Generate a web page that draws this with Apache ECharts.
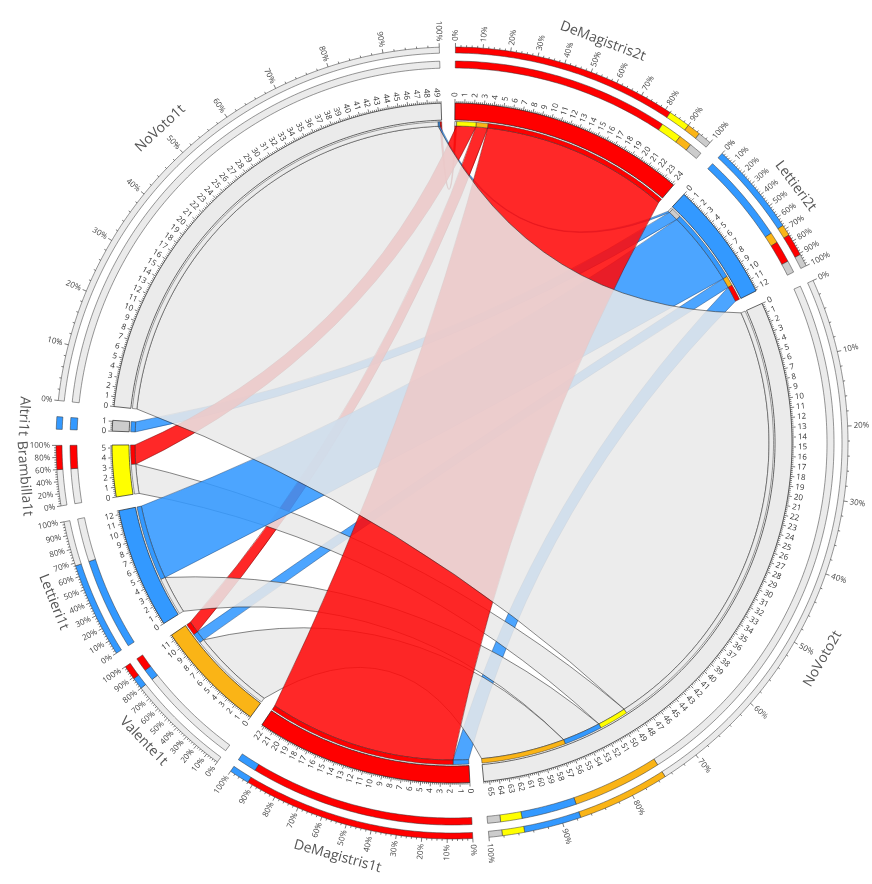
<!DOCTYPE html>
<html><head><meta charset="utf-8">
<script src="https://cdn.jsdelivr.net/npm/echarts@6/dist/echarts.min.js"></script>
<style>html,body{margin:0;padding:0;background:#fff}#c{width:872px;height:884px}</style>
</head><body><div id="c"></div>
<script>
// ---------------- data ----------------
const sources = ['NoVoto1t','Altri1t','Brambilla1t','Lettieri1t','Valente1t','DeMagistris1t'];
const targets = ['DeMagistris2t','Lettieri2t','NoVoto2t'];
// flows from each 1st-round node to [DeMagistris2t, Lettieri2t, NoVoto2t]
const flowNoVoto1t      = [0.2, 0.2, 49.0];
const flowAltri1t       = [0.0, 1.1, 0.0];
const flowBrambilla1t   = [2.1, 0.0, 3.2];
const flowLettieri1t    = [0.0, 8.2, 4.2];
const flowValente1t     = [1.3, 1.1, 9.2];
const flowDeMagistris1t = [20.6, 1.7, 0.0];
const flows = [flowNoVoto1t, flowAltri1t, flowBrambilla1t, flowLettieri1t, flowValente1t, flowDeMagistris1t];

// composition rings (percent), read from the outer rings
const ringDeMagistris2t = [['DeMagistris',82],['Brambilla',8],['Valente',5],['Altri',5]];
const ringLettieri2t    = [['Lettieri',67],['Valente',8],['DeMagistris',16],['Altri',9]];
const ringNoVoto2t      = [['NoVoto',75],['Valente',12.5],['Lettieri',7.7],['Brambilla',3],['Altri',1.8]];
const ringDeMagistris1t = [['DeMagistris',92],['Lettieri',8]];
const ringValente1t     = [['NoVoto',80],['Lettieri',9],['DeMagistris',11]];
const ringLettieri1t    = [['Lettieri',68],['NoVoto',32]];
const ringBrambilla1t   = [['NoVoto',60],['DeMagistris',40]];
const ringAltri1t       = [['Lettieri',100]];
const ringNoVoto1t      = [['NoVoto',100]];

// ---------------- styling ----------------
const party = {NoVoto1t:'NoVoto',Altri1t:'Altri',Brambilla1t:'Brambilla',Lettieri1t:'Lettieri',Valente1t:'Valente',DeMagistris1t:'DeMagistris',
  DeMagistris2t:'DeMagistris',Lettieri2t:'Lettieri',NoVoto2t:'NoVoto'};
const partyColor = {DeMagistris:'#ff0000',Lettieri:'#3399ff',Brambilla:'#ffff00',Valente:'#fab416',NoVoto:'#ebebeb',Altri:'#cccccc'};
const ribbonFill = {DeMagistris:'rgba(255,10,10,0.88)',Lettieri:'rgba(51,153,255,0.88)',NoVoto:'rgba(233,233,233,0.86)'};
const ribbonStroke = {DeMagistris:'rgba(110,0,0,0.7)',Lettieri:'rgba(10,50,100,0.6)',NoVoto:'rgba(40,40,40,0.8)'};
const rings = {DeMagistris2t:ringDeMagistris2t,Lettieri2t:ringLettieri2t,NoVoto2t:ringNoVoto2t,DeMagistris1t:ringDeMagistris1t,
  Valente1t:ringValente1t,Lettieri1t:ringLettieri1t,Brambilla1t:ringBrambilla1t,Altri1t:ringAltri1t,NoVoto1t:ringNoVoto1t};
const nodeOrder = ['DeMagistris2t','Lettieri2t','NoVoto2t','DeMagistris1t','Valente1t','Lettieri1t','Brambilla1t','Altri1t','NoVoto1t'];
const RAD = {rib:317, capOut:321.5, ideoIn:323, ideoOut:340, tickMaj:344, tickMin:342, numLab:346,
  r1In:375, r1Out:382, r2In:390, r2Out:396, pTickMaj:400, pTickMin:398, pLab:402, name:429};
const FONT = '"Open Sans", "DejaVu Sans", sans-serif';

// ---------------- layout ----------------
function nodeValue(n){
  const si = sources.indexOf(n);
  if (si >= 0) return flows[si].reduce((a,b)=>a+b,0);
  const ti = targets.indexOf(n);
  return flows.reduce((a,row)=>a+row[ti],0);
}
const GAP = 1.41, START = 0.3;
const layout = {};
let cur = START;
nodeOrder.forEach(n=>{ const v = nodeValue(n); layout[n] = {start:cur, end:cur+v, value:v}; cur += v + GAP; });
const TOTAL = cur - START;

const ribbons = [];
sources.forEach((s,si)=>targets.forEach((t,ti)=>{ if (flows[si][ti] > 0) ribbons.push({s, t, si, ti, v:flows[si][ti]}); }));
targets.forEach((t,ti)=>{ let p = layout[t].start;
  sources.forEach((s,si)=>{ const rb = ribbons.find(r=>r.si===si && r.ti===ti); if (rb){ rb.tgt=[p,p+rb.v]; p+=rb.v; } }); });
sources.forEach((s,si)=>{ let p = layout[s].start;
  for (let ti=targets.length-1; ti>=0; ti--){ const rb = ribbons.find(r=>r.si===si && r.ti===ti); if (rb){ rb.src=[p,p+rb.v]; p+=rb.v; } } });
ribbons.sort((a,b)=>a.v-b.v);

// ---------------- geometry helpers (all via api.coord) ----------------
const f = x => x.toFixed(2);
function arcPts(api, r, a0, a1){
  const n = Math.max(2, Math.ceil(Math.abs(a1-a0)/0.4)+1), pts=[];
  for (let i=0;i<n;i++) pts.push(api.coord([r, a0+(a1-a0)*i/(n-1)]));
  return pts;
}
function sectorPath(api, r0, r1, a0, a1){
  const o = arcPts(api, r1, a0, a1), i = arcPts(api, r0, a1, a0);
  return 'M' + o.concat(i).map(p=>f(p[0])+' '+f(p[1])).join('L') + 'Z';
}
function radialText(api, r, a, text, size, color){
  const c = api.coord([0,0]), p = api.coord([r, a]);
  const dx = p[0]-c[0], dy = p[1]-c[1];
  let rot = Math.atan2(-dy, dx), align = 'left';
  if (dx < -0.01){ rot += Math.PI; align = 'right'; }
  return {type:'text', x:p[0], y:p[1], rotation:rot, silent:true,
    style:{text, align, verticalAlign:'middle', fill:color, font: size+'px '+FONT}};
}

// ---------------- render functions ----------------
function renderRibbon(params, api){
  const rb = ribbons[params.dataIndex];
  const c = api.coord([0,0]), K = 0.6;
  const A = arcPts(api, RAD.rib, rb.src[0], rb.src[1]);
  const B = arcPts(api, RAD.rib, rb.tgt[0], rb.tgt[1]);
  const ctrl = (p,q)=>[c[0]+K*((p[0]+q[0])/2-c[0]), c[1]+K*((p[1]+q[1])/2-c[1])];
  const c1 = ctrl(A[A.length-1], B[0]), c2 = ctrl(B[B.length-1], A[0]);
  let d = 'M' + A.map(p=>f(p[0])+' '+f(p[1])).join('L');
  d += 'Q' + f(c1[0])+' '+f(c1[1])+' '+f(B[0][0])+' '+f(B[0][1]);
  d += 'L' + B.map(p=>f(p[0])+' '+f(p[1])).join('L');
  d += 'Q' + f(c2[0])+' '+f(c2[1])+' '+f(A[0][0])+' '+f(A[0][1]) + 'Z';
  const pt = party[rb.t];
  return {type:'path', shape:{pathData:d}, style:{fill:ribbonFill[pt], stroke:ribbonStroke[pt], lineWidth:0.7}};
}
function renderCaps(params, api){
  const rb = ribbons[params.dataIndex];
  return {type:'group', children:[
    {type:'path', shape:{pathData:sectorPath(api, RAD.rib, RAD.capOut, rb.src[0], rb.src[1])},
      style:{fill:partyColor[party[rb.t]], stroke:'#333', lineWidth:0.5}},
    {type:'path', shape:{pathData:sectorPath(api, RAD.rib, RAD.capOut, rb.tgt[0], rb.tgt[1])},
      style:{fill:partyColor[party[rb.s]], stroke:'#333', lineWidth:0.5}}
  ]};
}
function renderIdeogram(params, api){
  const n = nodeOrder[params.dataIndex], L = layout[n], ch = [];
  ch.push({type:'path', shape:{pathData:sectorPath(api, RAD.ideoIn, RAD.ideoOut, L.start, L.end)},
    style:{fill:partyColor[party[n]], stroke:'#222', lineWidth:0.7}});
  let d = '';
  const steps = Math.floor(L.value*5 + 1e-6);
  for (let k=0;k<=steps;k++){
    const a = L.start + k/5, major = k%5===0;
    const p0 = api.coord([RAD.ideoOut, a]), p1 = api.coord([major?RAD.tickMaj:RAD.tickMin, a]);
    d += 'M'+f(p0[0])+' '+f(p0[1])+'L'+f(p1[0])+' '+f(p1[1]);
    if (major) ch.push(radialText(api, RAD.numLab, a, String(k/5), 8, '#333'));
  }
  ch.push({type:'path', shape:{pathData:d}, style:{fill:null, stroke:'#222', lineWidth:0.6}});
  return {type:'group', children:ch};
}
function renderRings(params, api){
  const n = nodeOrder[params.dataIndex], L = layout[n], ch = [];
  const comp = rings[n];
  [[RAD.r1In,RAD.r1Out],[RAD.r2In,RAD.r2Out]].forEach(([r0,r1])=>{
    let acc = 0;
    comp.forEach(([p,pct])=>{
      const a0 = L.start + L.value*acc/100, a1 = L.start + L.value*(acc+pct)/100;
      ch.push({type:'path', shape:{pathData:sectorPath(api, r0, r1, a0, a1)},
        style:{fill:partyColor[p], stroke:'#333', lineWidth:0.5}});
      acc += pct;
    });
  });
  const span = L.value/TOTAL*360;
  const labStep = span >= 15 ? 10 : (span >= 5 ? 20 : 0);
  if (labStep){
    const minor = labStep/5; let d='';
    for (let q=0;q<=100+1e-6;q+=minor){
      const a = L.start + L.value*q/100, major = Math.abs(q/labStep - Math.round(q/labStep))<1e-6;
      const p0 = api.coord([RAD.r2Out, a]), p1 = api.coord([major?RAD.pTickMaj:RAD.pTickMin, a]);
      d += 'M'+f(p0[0])+' '+f(p0[1])+'L'+f(p1[0])+' '+f(p1[1]);
      if (major) ch.push(radialText(api, RAD.pLab, a, Math.round(q)+'%', 8, '#444'));
    }
    ch.push({type:'path', shape:{pathData:d}, style:{fill:null, stroke:'#222', lineWidth:0.6}});
  }
  // node name (tangential, flipped on the lower-left so it stays readable)
  const c = api.coord([0,0]), pm = api.coord([RAD.name, (L.start+L.end)/2]);
  const dx = pm[0]-c[0], dy = pm[1]-c[1];
  const clockDeg = (Math.atan2(dx, -dy)*180/Math.PI + 360) % 360;
  let rot = Math.atan2(-dy, dx) - Math.PI/2;
  if (clockDeg > 90 && clockDeg < 276) rot += Math.PI;
  // very narrow node: keep a small gap to its neighbour's name
  const pad = span < 3 ? [0, 10, 0, 0] : 0;
  ch.push({type:'text', x:pm[0], y:pm[1], rotation:rot, silent:true,
    style:{text:n, align:'center', verticalAlign:'middle', fill:'#555', font:'14px '+FONT, padding:pad}});
  return {type:'group', children:ch};
}

// ---------------- chart ----------------
const chart = echarts.init(document.getElementById('c'));
const idx = arr => arr.map((_,i)=>[0, i]);
chart.setOption({
  animation:false,
  backgroundColor:'#fff',
  polar:{center:[452,443], radius:442},
  angleAxis:{type:'value', min:0, max:TOTAL, startAngle:90, clockwise:true, show:false},
  radiusAxis:{type:'value', min:0, max:442, show:false},
  series:[
    {type:'custom', coordinateSystem:'polar', z:1, renderItem:renderRibbon, data:idx(ribbons), silent:true},
    {type:'custom', coordinateSystem:'polar', z:2, renderItem:renderCaps, data:idx(ribbons), silent:true},
    {type:'custom', coordinateSystem:'polar', z:3, renderItem:renderIdeogram, data:idx(nodeOrder), silent:true},
    {type:'custom', coordinateSystem:'polar', z:3, renderItem:renderRings, data:idx(nodeOrder), silent:true}
  ]
});
</script></body></html>
